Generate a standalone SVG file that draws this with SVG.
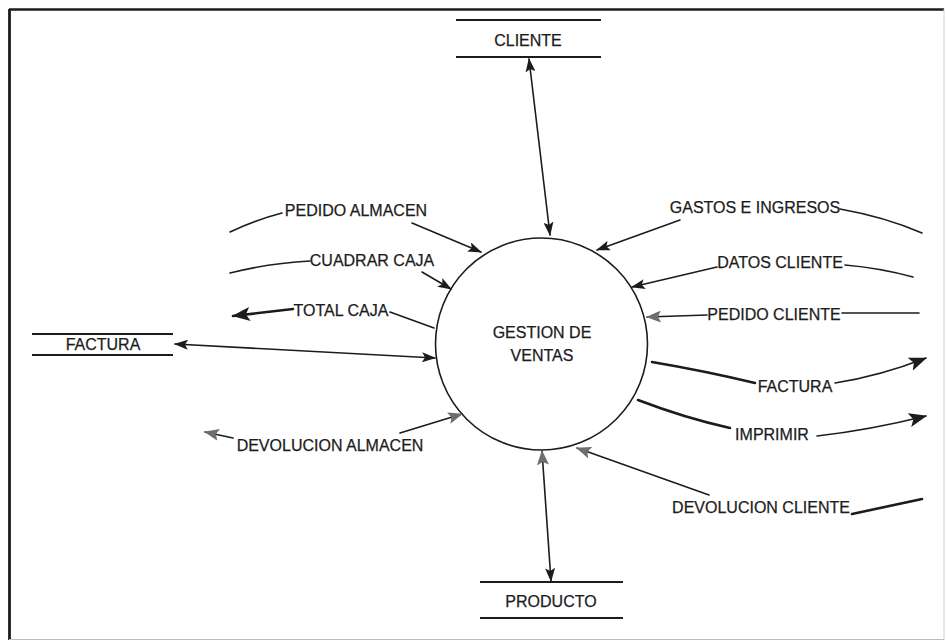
<svg xmlns="http://www.w3.org/2000/svg" width="946" height="642" viewBox="0 0 946 642">
  <style>
    text { font-family: "Liberation Sans", Arial, sans-serif; font-size: 16px; fill: #1c1c1c; stroke: #1c1c1c; stroke-width: 0.25; text-anchor: middle; }
    .flow { fill: none; stroke: #1c1c1c; stroke-width: 1.6; stroke-linecap: round; }
    .heavy { stroke-width: 2.6; }
    .store { stroke: #1c1c1c; stroke-width: 1.8; }
  </style>
  <defs>
    <marker id="arrow" viewBox="0 0 14 10" refX="13" refY="5" markerWidth="14" markerHeight="10" markerUnits="userSpaceOnUse" orient="auto-start-reverse">
      <path d="M0,0 L14,5 L0,10 L3,5 Z" fill="#1c1c1c"/>
    </marker>
    <marker id="arrowGray" viewBox="0 0 15 12" refX="14" refY="6" markerWidth="15" markerHeight="12" markerUnits="userSpaceOnUse" orient="auto-start-reverse">
      <path d="M0,0 L15,6 L0,12 L3,6 Z" fill="#6e6e6e"/>
    </marker>
    <marker id="arrowBig" viewBox="0 0 18 14" refX="17" refY="7" markerWidth="18" markerHeight="14" markerUnits="userSpaceOnUse" orient="auto-start-reverse">
      <path d="M0,0 L18,7 L0,14 L4,7 Z" fill="#1c1c1c"/>
    </marker>
  </defs>

  <rect width="946" height="642" fill="#ffffff"/>

  <!-- frame -->
  <g id="frame">
    <line x1="9" y1="9.5" x2="944" y2="9.5" stroke="#1c1c1c" stroke-width="2.6"/>
    <line x1="9.5" y1="9" x2="9.5" y2="640" stroke="#1c1c1c" stroke-width="2.8"/>
    <line x1="944" y1="9" x2="944" y2="640" stroke="#cfcfcf" stroke-width="1"/>
    <line x1="9" y1="639.5" x2="944" y2="639.5" stroke="#bdbdbd" stroke-width="1.2"/>
  </g>

  <!-- process -->
  <g id="gestion-ventas">
    <circle cx="541.5" cy="344" r="106" fill="#ffffff" stroke="#1c1c1c" stroke-width="1.6"/>
    <text x="542" y="338">GESTION DE</text>
    <text x="542" y="361">VENTAS</text>
  </g>

  <!-- data stores -->
  <g id="cliente">
    <line class="store" x1="456" y1="20" x2="601" y2="20"/>
    <line class="store" x1="456" y1="57" x2="601" y2="57"/>
    <text x="528" y="46">CLIENTE</text>
  </g>
  <g id="producto">
    <line class="store" x1="480" y1="582" x2="623" y2="582"/>
    <line class="store" x1="480" y1="618" x2="623" y2="618"/>
    <text x="551" y="607">PRODUCTO</text>
  </g>
  <g id="factura-store">
    <line class="store" x1="32" y1="334" x2="173" y2="334"/>
    <line class="store" x1="32" y1="355" x2="173" y2="355"/>
    <text x="103" y="350">FACTURA</text>
  </g>

  <!-- data flows -->
  <g id="connectors">
    <!-- stores -->
    <line class="flow" x1="529" y1="59" x2="550" y2="235" marker-start="url(#arrow)" marker-end="url(#arrow)"/>
    <line class="flow" x1="542" y1="451" x2="551" y2="581" marker-start="url(#arrowGray)" marker-end="url(#arrow)"/>
    <line class="flow" x1="175" y1="344" x2="435" y2="358" marker-start="url(#arrow)" marker-end="url(#arrow)"/>

    <!-- left side -->
    <path class="flow" d="M230,232 Q255,220 282,213"/>
    <line class="flow" x1="412" y1="223" x2="481" y2="252" marker-end="url(#arrow)"/>

    <path class="flow" d="M230,273 Q270,263 310,261"/>
    <line class="flow" x1="422" y1="272" x2="451" y2="289" marker-end="url(#arrow)"/>

    <line class="flow heavy" x1="293" y1="309" x2="233" y2="316" marker-end="url(#arrowBig)"/>
    <line class="flow" x1="390" y1="312" x2="434" y2="328"/>

    <line class="flow" x1="233" y1="438" x2="205" y2="432" marker-end="url(#arrowGray)"/>
    <line class="flow" x1="400" y1="433" x2="462" y2="414" marker-end="url(#arrowGray)"/>

    <!-- right side -->
    <path class="flow" d="M840,209 Q885,217 922,233"/>
    <line class="flow" x1="680" y1="220" x2="597" y2="250" marker-end="url(#arrow)"/>

    <path class="flow" d="M845,265 Q880,268 913,277"/>
    <line class="flow" x1="717" y1="267" x2="632" y2="287" marker-end="url(#arrow)"/>

    <line class="flow" x1="842" y1="313" x2="919" y2="313"/>
    <line class="flow" x1="707" y1="315" x2="647" y2="317" marker-end="url(#arrowGray)"/>

    <path class="flow heavy" d="M652,362 Q705,371 755,383"/>
    <path class="flow" d="M835,383 Q880,376 926,358" marker-end="url(#arrowBig)"/>

    <path class="flow heavy" d="M638,400 Q685,418 730,428"/>
    <path class="flow" d="M817,436 Q870,430 926,416" marker-end="url(#arrowBig)"/>

    <line class="flow" x1="709" y1="495" x2="577" y2="448" marker-end="url(#arrowGray)"/>
    <line class="flow heavy" x1="852" y1="514" x2="922" y2="499"/>
  </g>

  <!-- flow labels -->
  <g id="labels">
    <text x="356" y="216">PEDIDO ALMACEN</text>
    <text x="372" y="266">CUADRAR CAJA</text>
    <text x="341" y="316">TOTAL CAJA</text>
    <text x="330" y="451">DEVOLUCION ALMACEN</text>
    <text x="755" y="213">GASTOS E INGRESOS</text>
    <text x="780" y="268">DATOS CLIENTE</text>
    <text x="774" y="320">PEDIDO CLIENTE</text>
    <text x="795" y="392">FACTURA</text>
    <text x="772" y="440">IMPRIMIR</text>
    <text x="761" y="513">DEVOLUCION CLIENTE</text>
  </g>
</svg>
